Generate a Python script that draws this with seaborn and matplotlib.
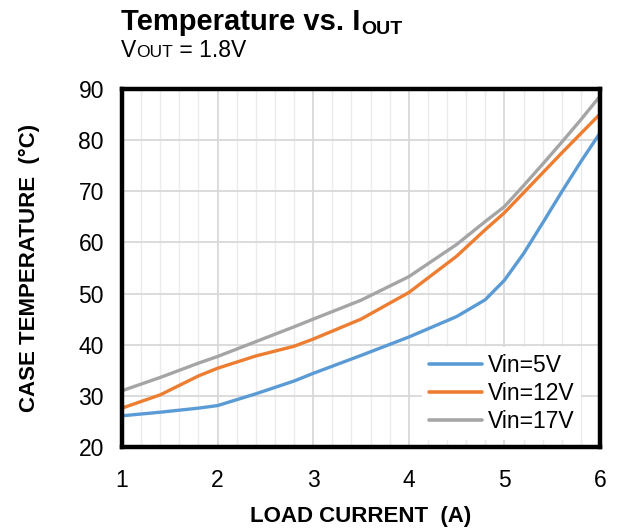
import numpy as np
import pandas as pd
import matplotlib
matplotlib.use("Agg")
import matplotlib.pyplot as plt
from matplotlib.ticker import MultipleLocator
import seaborn as sns

# 数据
load_current = [1.0, 1.4, 1.8, 2.0, 2.4, 2.8, 3.0, 3.5, 4.0, 4.5, 4.8, 5.0, 5.2, 5.4, 5.6, 5.8, 6.0]
temp_vin5 = [26.1, 26.8, 27.6, 28.1, 30.4, 32.9, 34.4, 37.9, 41.5, 45.5, 48.8, 52.6, 57.8, 63.8, 69.9, 75.8, 81.4]
temp_vin12 = [27.6, 30.2, 33.9, 35.4, 37.8, 39.7, 41.1, 45.0, 50.2, 57.3, 62.5, 65.8, 69.7, 73.6, 77.5, 81.3, 85.1]
temp_vin17 = [31.0, 33.6, 36.4, 37.7, 40.6, 43.5, 45.0, 48.7, 53.3, 59.6, 64.1, 67.0, 71.1, 75.3, 79.6, 84.0, 88.6]
series_names = ["Vin=5V", "Vin=12V", "Vin=17V"]
colors = ["#5B9BD5", "#ED7D31", "#A5A5A5"]

df = pd.DataFrame({
    "I": load_current * 3,
    "T": temp_vin5 + temp_vin12 + temp_vin17,
    "Vin": np.repeat(series_names, len(load_current)),
})

sns.set_style("whitegrid")
plt.rcParams['font.family'] = ['Liberation Sans', 'DejaVu Sans']
for k in ['text.color', 'axes.labelcolor', 'xtick.color', 'ytick.color']:
    plt.rcParams[k] = 'black'

W, H = 619, 531
fig = plt.figure(figsize=(W / 100, H / 100), dpi=100)
ax = fig.add_axes([122 / W, 1 - 447 / H, (600 - 122) / W, (447 - 89) / H])

sns.lineplot(data=df, x="I", y="T", hue="Vin", palette=colors,
             linewidth=2.4, ax=ax, zorder=3)

ax.set_xlim(1, 6)
ax.set_ylim(20, 90)
ax.xaxis.set_major_locator(MultipleLocator(1))
ax.xaxis.set_minor_locator(MultipleLocator(0.2))
ax.yaxis.set_major_locator(MultipleLocator(10))
ax.grid(which="major", color="#d9d9d9", linewidth=1.3)
ax.grid(which="minor", axis="x", color="#ebebeb", linewidth=1.0)
ax.tick_params(which="both", length=0, labelsize=16.5)
ax.tick_params(axis="y", pad=13)
ax.tick_params(axis="x", pad=16)
for s in ax.spines.values():
    s.set_color("black")
    s.set_linewidth(3.2)
    s.set_zorder(5)

ax.set_xlabel("LOAD CURRENT  (A)", fontsize=16, fontweight="bold", labelpad=10)
ax.set_ylabel("CASE TEMPERATURE  (°C)", fontsize=16, fontweight="bold", labelpad=28)

leg = ax.legend(loc="lower right", fontsize=16.5, frameon=True, fancybox=False,
                handlelength=2.3, handletextpad=0.25, labelspacing=0.22,
                borderpad=0.3, borderaxespad=0.3, bbox_to_anchor=(0.975, 0.0))
leg.get_frame().set_edgecolor("none")
leg.get_frame().set_facecolor("white")
leg.get_frame().set_alpha(1)
for h in leg.legend_handles:
    h.set_linewidth(2.6)
for t in leg.get_texts():
    t.set_color("black")

# 标题（手工拼接下标）
renderer = fig.canvas.get_renderer()

def put(x_px, y_px, s, size, weight="normal"):
    t = fig.text(x_px / W, 1 - y_px / H, s, fontsize=size, fontweight=weight,
                 va="baseline", ha="left", color="black")
    bb = t.get_window_extent(renderer=renderer)
    return bb.x1

x = put(121, 30, "Temperature vs. I", 21, "bold")
put(x + 1, 34, "OUT", 14, "bold")
x = put(121, 57, "V", 16.5)
x = put(x, 57, "OUT", 12.5)
put(x, 57, " = 1.8V", 16.5)

fig.savefig("out.png", dpi=100)
